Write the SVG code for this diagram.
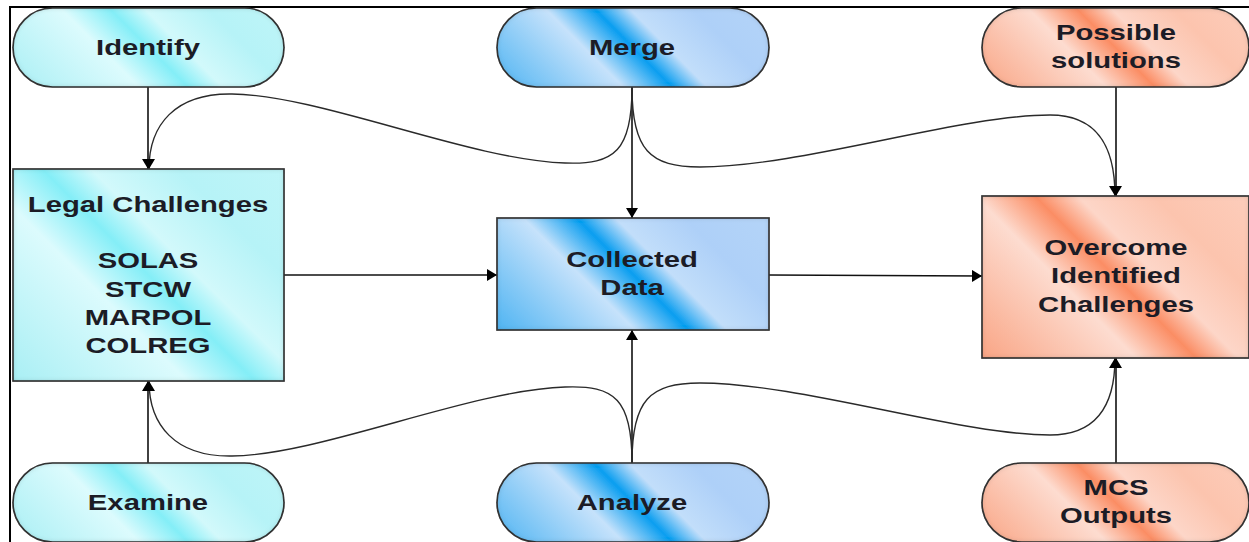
<svg xmlns="http://www.w3.org/2000/svg" width="1249" height="542" viewBox="0 0 1249 542">
<style>
.node-shape{stroke:#2e2e2e;stroke-width:1.6;filter:url(#inner)}
.lbl{font-family:"Liberation Sans",Arial,sans-serif;font-weight:bold;font-size:22.5px;fill:#1c1c26;text-anchor:middle}
.conn{fill:none;stroke:#111;stroke-width:1.6}
.curve{fill:none;stroke:#2a2a2a;stroke-width:1.4}
.frame{stroke:#000;stroke-width:2;fill:none}
</style>
<defs>
<marker id="arr" viewBox="0 0 10 12" refX="10" refY="6" markerWidth="10" markerHeight="12" markerUnits="userSpaceOnUse" orient="auto">
<path d="M0,0 L10,6 L0,12 z" fill="#000"/>
</marker>
<filter id="inner" x="-5%" y="-5%" width="110%" height="110%">
<feFlood flood-color="#404040" flood-opacity="0.55"/>
<feComposite in2="SourceAlpha" operator="out"/>
<feGaussianBlur stdDeviation="2.5"/>
<feOffset dy="-0.5"/>
<feComposite in2="SourceAlpha" operator="in" result="sh"/>
<feMerge><feMergeNode in="SourceGraphic"/><feMergeNode in="sh"/></feMerge>
</filter>
<linearGradient id="cyan">
<stop offset="0" stop-color="#a9eff4"/>
<stop offset="0.36" stop-color="#dcfbfd"/>
<stop offset="0.5" stop-color="#84eef7"/>
<stop offset="0.6" stop-color="#d2f9fb"/>
<stop offset="0.78" stop-color="#b6f3f7"/>
<stop offset="1" stop-color="#bff5f8"/>
</linearGradient>
<linearGradient id="blue">
<stop offset="0" stop-color="#4fb4f2"/>
<stop offset="0.36" stop-color="#c6e2fb"/>
<stop offset="0.5" stop-color="#0a9ef0"/>
<stop offset="0.6" stop-color="#c2defa"/>
<stop offset="0.78" stop-color="#aed0f8"/>
<stop offset="1" stop-color="#b4d4f8"/>
</linearGradient>
<linearGradient id="orange">
<stop offset="0" stop-color="#f9a585"/>
<stop offset="0.36" stop-color="#fddcd0"/>
<stop offset="0.5" stop-color="#fb8d64"/>
<stop offset="0.6" stop-color="#fdd6c8"/>
<stop offset="0.78" stop-color="#fcc4ae"/>
<stop offset="1" stop-color="#fdcdbb"/>
</linearGradient>
<linearGradient id="gIdentify" href="#cyan" gradientUnits="userSpaceOnUse" x1="61" y1="135" x2="236" y2="-40"/>
<linearGradient id="gMerge" href="#blue" gradientUnits="userSpaceOnUse" x1="545" y1="135" x2="721" y2="-40"/>
<linearGradient id="gPossible" href="#orange" gradientUnits="userSpaceOnUse" x1="1029" y1="134" x2="1202" y2="-39"/>
<linearGradient id="gLegal" href="#cyan" gradientUnits="userSpaceOnUse" x1="28" y1="396" x2="269" y2="154"/>
<linearGradient id="gCollected" href="#blue" gradientUnits="userSpaceOnUse" x1="537" y1="370" x2="729" y2="178"/>
<linearGradient id="gOvercome" href="#orange" gradientUnits="userSpaceOnUse" x1="1008" y1="384" x2="1223" y2="170"/>
<linearGradient id="gExamine" href="#cyan" gradientUnits="userSpaceOnUse" x1="61" y1="590" x2="236" y2="415"/>
<linearGradient id="gAnalyze" href="#blue" gradientUnits="userSpaceOnUse" x1="545" y1="590" x2="721" y2="415"/>
<linearGradient id="gMCS" href="#orange" gradientUnits="userSpaceOnUse" x1="1029" y1="589" x2="1202" y2="416"/>
</defs>
<rect x="0" y="0" width="1249" height="542" fill="#fff"/>
<path class="frame" d="M10,542 L10,7 L1249,7"/>

<g id="connectors">
<path class="conn" d="M148,87 L148,169" marker-end="url(#arr)"/>
<path class="conn" d="M632,87 L632,218" marker-end="url(#arr)"/>
<path class="conn" d="M1116,87 L1116,196" marker-end="url(#arr)"/>
<path class="conn" d="M284,275 L497,275" marker-end="url(#arr)"/>
<path class="conn" d="M769,275 L982,276" marker-end="url(#arr)"/>
<path class="conn" d="M148,463 L148,381" marker-end="url(#arr)"/>
<path class="conn" d="M632,463 L632,330" marker-end="url(#arr)"/>
<path class="conn" d="M1116,463 L1116,358" marker-end="url(#arr)"/>
<path class="curve" d="M632,88 C632,150 615,165 565,163 C470,160 320,95 232,94 C175,93 149,125 149,169" marker-end="url(#arr)"/>
<path class="curve" d="M632,88 C632,150 650,167 700,167 C800,167 960,115 1050,115 C1100,115 1115,150 1115,196" marker-end="url(#arr)"/>
<path class="curve" d="M632,462 C632,400 615,385 565,387 C470,390 320,455 232,456 C175,457 149,425 149,381" marker-end="url(#arr)"/>
<path class="curve" d="M632,462 C632,400 650,383 700,383 C800,383 960,435 1050,435 C1100,435 1115,400 1115,358" marker-end="url(#arr)"/>
</g>

<g id="identify">
<rect class="node-shape" x="13" y="8" width="271" height="79" rx="39.5" fill="url(#gIdentify)"/>
<text class="lbl" transform="translate(148,55) scale(1.3,1)">Identify</text>
</g>
<g id="merge">
<rect class="node-shape" x="497" y="8" width="272" height="79" rx="39.5" fill="url(#gMerge)"/>
<text class="lbl" transform="translate(632,55) scale(1.3,1)">Merge</text>
</g>
<g id="possible-solutions">
<rect class="node-shape" x="982" y="8" width="267" height="79" rx="39.5" fill="url(#gPossible)"/>
<text class="lbl" transform="translate(1116,40) scale(1.3,1)">Possible</text>
<text class="lbl" transform="translate(1116,68) scale(1.3,1)">solutions</text>
</g>
<g id="legal-challenges">
<rect class="node-shape" x="13" y="169" width="271" height="212" fill="url(#gLegal)"/>
<text class="lbl" transform="translate(148,212) scale(1.3,1)">Legal Challenges</text>
<text class="lbl" transform="translate(148,268) scale(1.3,1)">SOLAS</text>
<text class="lbl" transform="translate(148,297) scale(1.3,1)">STCW</text>
<text class="lbl" transform="translate(148,325) scale(1.3,1)">MARPOL</text>
<text class="lbl" transform="translate(148,353) scale(1.3,1)">COLREG</text>
</g>
<g id="collected-data">
<rect class="node-shape" x="497" y="218" width="272" height="112" fill="url(#gCollected)"/>
<text class="lbl" transform="translate(632,267) scale(1.3,1)">Collected</text>
<text class="lbl" transform="translate(632,295) scale(1.3,1)">Data</text>
</g>
<g id="overcome">
<rect class="node-shape" x="982" y="196" width="267" height="162" fill="url(#gOvercome)"/>
<text class="lbl" transform="translate(1116,255) scale(1.3,1)">Overcome</text>
<text class="lbl" transform="translate(1116,283) scale(1.3,1)">Identified</text>
<text class="lbl" transform="translate(1116,312) scale(1.3,1)">Challenges</text>
</g>
<g id="examine">
<rect class="node-shape" x="13" y="463" width="271" height="79" rx="39.5" fill="url(#gExamine)"/>
<text class="lbl" transform="translate(148,510) scale(1.3,1)">Examine</text>
</g>
<g id="analyze">
<rect class="node-shape" x="497" y="463" width="272" height="79" rx="39.5" fill="url(#gAnalyze)"/>
<text class="lbl" transform="translate(632,510) scale(1.3,1)">Analyze</text>
</g>
<g id="mcs-outputs">
<rect class="node-shape" x="982" y="463" width="267" height="79" rx="39.5" fill="url(#gMCS)"/>
<text class="lbl" transform="translate(1116,495) scale(1.3,1)">MCS</text>
<text class="lbl" transform="translate(1116,523) scale(1.3,1)">Outputs</text>
</g>
</svg>
